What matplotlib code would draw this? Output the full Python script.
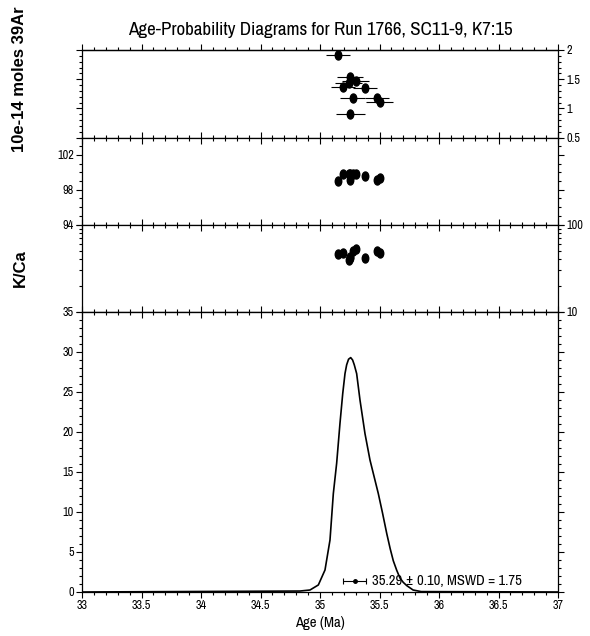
import matplotlib
matplotlib.use('Agg')
import matplotlib.pyplot as plt
from matplotlib import font_manager as fm
import numpy as np
from matplotlib.ticker import MultipleLocator, FixedLocator, FuncFormatter, NullFormatter, LogLocator
from matplotlib.path import Path
from matplotlib.transforms import Affine2D

# look for a narrow sans face, the original uses a Helvetica Narrow look
names = sorted(set(f.name for f in fm.fontManager.ttflist))
narrow = [n for n in names if 'narrow' in n.lower() or 'condensed' in n.lower()]
cond_files = [f for f in fm.fontManager.ttflist
              if 'condensed' in f.fname.lower() and 'bold' not in f.fname.lower()
              and 'oblique' not in f.fname.lower() and 'italic' not in f.fname.lower()]
if narrow:
    plt.rcParams['font.family'] = [narrow[0], 'DejaVu Sans']
    shrink = 1.0
elif cond_files:
    plt.rcParams['font.family'] = [cond_files[0].name, 'DejaVu Sans']
    plt.rcParams['font.stretch'] = 'condensed'
    shrink = 0.92
else:
    plt.rcParams['font.family'] = ['Liberation Sans', 'DejaVu Sans']
    shrink = 0.88

# step data (age in Ma)
ages = [35.15, 35.25, 35.24, 35.30, 35.195, 35.375, 35.275, 35.476, 35.50, 35.255]
age_err = [0.10, 0.11, 0.11, 0.115, 0.10, 0.10, 0.105, 0.10, 0.11, 0.12]
moles = [1.91, 1.53, 1.44, 1.47, 1.37, 1.35, 1.17, 1.18, 1.11, 0.91]
rad_pct = [98.98, 99.86, 99.86, 99.86, 99.86, 99.58, 99.86, 99.17, 99.40, 99.09]
k_ca = [45.6, 42.9, 39.3, 52.5, 47.6, 41.7, 49.8, 49.8, 47.6, 41.1]

# probability curve
curve_age = [33.0, 34.832, 34.916, 34.986, 35.042, 35.084, 35.112, 35.140, 35.168, 35.191,
             35.210, 35.224, 35.240, 35.258, 35.274, 35.288, 35.308, 35.336, 35.378, 35.420,
             35.455, 35.490, 35.525, 35.561, 35.590, 35.616, 35.645, 35.672, 35.700, 35.729,
             35.782, 35.85, 37.0]
curve_prob = [0.0, 0.12, 0.25, 0.88, 2.75, 6.5, 12.3, 16.1, 21.1, 24.8,
              27.3, 28.4, 29.1, 29.3, 29.0, 28.4, 27.3, 24.0, 19.8, 16.5,
              14.4, 12.3, 9.9, 7.3, 5.4, 3.9, 2.7, 1.75, 1.2, 0.8,
              0.25, 0.05, 0.0]

mean_age = 35.29
mean_err = 0.10
mswd = 1.75

W, H = 590, 636
fig = plt.figure(figsize=(W / 100, H / 100), dpi=100)

left = 82 / W
width = (558 - 82) / W

def box(top, bottom):
    return [left, (H - bottom) / H, width, (bottom - top) / H]

ax1 = fig.add_axes(box(50, 137.5))
ax2 = fig.add_axes(box(137.5, 224.5))
ax3 = fig.add_axes(box(224.5, 312))
ax4 = fig.add_axes(box(312, 592))

ell = Path.unit_circle().transformed(Affine2D().scale(0.72, 1.0))
fmt = FuncFormatter(lambda v, p: '%g' % v)
tick_fs = 8.8 * shrink

for ax in (ax1, ax2, ax3, ax4):
    ax.set_xlim(33, 37)
    ax.xaxis.set_major_locator(MultipleLocator(0.5))
    ax.xaxis.set_minor_locator(MultipleLocator(0.1))
    ax.tick_params(axis='both', which='major', length=4.5, width=0.8, labelsize=tick_fs, pad=1.5)
    ax.tick_params(axis='both', which='minor', length=2.5, width=0.8)
    ax.tick_params(axis='y', which='both', direction='out', left=True, right=True)
    for s in ax.spines.values():
        s.set_linewidth(0.9)

# panel 1: moles of 39Ar
ax1.errorbar(ages, moles, xerr=age_err, fmt='none', ecolor='black', elinewidth=0.8)
ax1.plot(ages, moles, ls='none', marker=ell, ms=6.5, color='black')
ax1.set_ylim(0.5, 2)
ax1.yaxis.set_major_locator(MultipleLocator(0.5))
ax1.yaxis.set_minor_locator(MultipleLocator(0.1))
ax1.yaxis.set_major_formatter(fmt)
ax1.tick_params(axis='y', labelleft=False, labelright=True)
ax1.tick_params(axis='x', which='both', direction='in', bottom=True, top=False, labelbottom=False)
sec1 = ax1.secondary_xaxis('top')
sec1.xaxis.set_major_locator(MultipleLocator(0.5))
sec1.xaxis.set_minor_locator(MultipleLocator(0.1))
sec1.tick_params(which='major', direction='out', length=4.5, width=0.8, labeltop=False)
sec1.tick_params(which='minor', direction='out', length=2.5, width=0.8)
sec1.spines['top'].set_linewidth(0.9)

# panel 2: % 40Ar*
ax2.plot(ages, rad_pct, ls='none', marker=ell, ms=6.5, color='black')
ax2.set_ylim(94, 104)
ax2.yaxis.set_major_locator(FixedLocator([94, 98, 102]))
ax2.yaxis.set_minor_locator(MultipleLocator(1))
ax2.yaxis.set_major_formatter(fmt)
ax2.tick_params(axis='y', labelleft=True, labelright=False)
ax2.tick_params(axis='x', which='both', direction='in', bottom=True, top=True, labelbottom=False)

# panel 3: K/Ca
ax3.plot(ages, k_ca, ls='none', marker=ell, ms=6.5, color='black')
ax3.set_yscale('log')
ax3.set_ylim(10, 100)
ax3.yaxis.set_major_locator(LogLocator(base=10))
ax3.yaxis.set_minor_locator(LogLocator(base=10, subs=np.arange(2, 10)))
ax3.yaxis.set_major_formatter(fmt)
ax3.yaxis.set_minor_formatter(NullFormatter())
ax3.tick_params(axis='y', which='both', labelleft=False, labelright=True)
ax3.tick_params(axis='x', which='both', direction='in', bottom=True, top=True, labelbottom=False)

# panel 4: probability
ax4.plot(curve_age, curve_prob, color='black', lw=1.2)
ax4.set_ylim(0, 35)
ax4.yaxis.set_major_locator(MultipleLocator(5))
ax4.yaxis.set_minor_locator(MultipleLocator(1))
ax4.yaxis.set_major_formatter(fmt)
ax4.xaxis.set_major_formatter(fmt)
ax4.tick_params(axis='y', labelleft=True, labelright=False)
ax4.tick_params(axis='x', which='both', direction='out', bottom=True, top=False, labelbottom=True)
sec4 = ax4.secondary_xaxis('top')
sec4.xaxis.set_major_locator(MultipleLocator(0.5))
sec4.xaxis.set_minor_locator(MultipleLocator(0.1))
sec4.tick_params(which='major', direction='in', length=4.5, width=0.8, labeltop=False)
sec4.tick_params(which='minor', direction='in', length=2.5, width=0.8)
ax4.set_xlabel('Age (Ma)', fontsize=10.6 * shrink, labelpad=3)

y_mark = 1.4
ax4.errorbar([mean_age], [y_mark], xerr=[mean_err], fmt='o', ms=2.5, color='black',
             elinewidth=0.8, capsize=2.5, capthick=0.8)
ax4.text(mean_age + mean_err + 0.045, y_mark, '%.2f \u00b1 %.2f, MSWD = %.2f' % (mean_age, mean_err, mswd),
         fontsize=10.5 * shrink, va='center', ha='left')

fig.text(320 / W, 1 - 30 / H, 'Age-Probability Diagrams for Run 1766, SC11-9, K7:15',
         ha='center', va='center', fontsize=13.7 * shrink)
fig.text(20 / W, 1 - 79 / H, '10e-14 moles 39Ar', rotation=90, ha='center', va='center',
         fontsize=12, fontweight='bold', family=['Liberation Sans', 'DejaVu Sans'])
fig.text(20 / W, 1 - 268 / H, 'K/Ca', rotation=90, ha='center', va='center',
         fontsize=12, fontweight='bold', family=['Liberation Sans', 'DejaVu Sans'])

fig.savefig('out.png', dpi=100)
